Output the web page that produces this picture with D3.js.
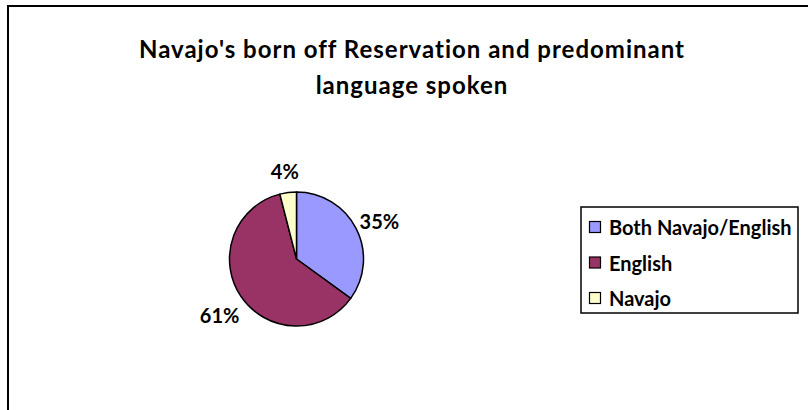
<!DOCTYPE html>
<html><head><meta charset="utf-8">
<script src="https://cdn.jsdelivr.net/npm/d3@7"></script>
<style>body{margin:0;background:#fff}svg{display:block}</style>
</head><body>
<script>
const categories = ["Both Navajo/English", "English", "Navajo"];
const values = [35, 61, 4];
const colors = ["#9999FF", "#993366", "#FFFFCC"];
const titleLines = ["Navajo's born off Reservation and predominant", "language spoken"];

const W = 808, H = 410;
const font = "Lato, 'Open Sans', sans-serif";
const svg = d3.select("body").append("svg").attr("width", W).attr("height", H);
svg.append("rect").attr("width", W).attr("height", H).attr("fill", "#fff");
// chart area border (continues beyond the window right and bottom)
svg.append("rect").attr("x", 8).attr("y", 6).attr("width", 1000).attr("height", 1000)
  .attr("fill", "none").attr("stroke", "#000").attr("stroke-width", 2);

// title
const title = svg.append("text").attr("text-anchor", "middle")
  .attr("font-family", font).attr("font-weight", "bold").attr("font-size", 24)
  .attr("letter-spacing", 1).attr("fill", "#000");
titleLines.forEach((t, i) => title.append("tspan").attr("x", 412).attr("y", 58 + i * 35.5).text(t));

// pie
const cx = 296.5, cy = 259, r = 67;
const pie = d3.pie().sort(null).value(d => d)(values);
const arc = d3.arc().innerRadius(0).outerRadius(r);
const labelArc = d3.arc().innerRadius(93).outerRadius(93);
const totalV = d3.sum(values);
const g = svg.append("g").attr("transform", `translate(${cx},${cy})`);
g.selectAll("path").data(pie).join("path")
  .attr("d", arc).attr("fill", (d, i) => colors[i])
  .attr("stroke", "#000").attr("stroke-width", 1.5).attr("stroke-linejoin", "round");
g.selectAll("text").data(pie).join("text")
  .attr("transform", d => `translate(${labelArc.centroid(d)})`)
  .attr("text-anchor", "middle").attr("dominant-baseline", "central").attr("dy", 4)
  .attr("font-family", font).attr("font-weight", "bold").attr("font-size", 20)
  .text(d => d3.format(".0%")(d.value / totalV));

// legend
const lx = 581, ly = 207, lw = 217, lh = 106;
svg.append("rect").attr("x", lx).attr("y", ly).attr("width", lw).attr("height", lh)
  .attr("fill", "#fff").attr("stroke", "#000").attr("stroke-width", 1.5);
const yRow = d3.scalePoint().domain(categories).range([227, 298]);
const items = svg.selectAll("g.leg").data(categories).join("g").attr("class", "leg")
  .attr("transform", d => `translate(0,${yRow(d)})`);
items.append("rect").attr("x", 589.5).attr("y", -5.5).attr("width", 11).attr("height", 11)
  .attr("fill", (d, i) => colors[i]).attr("stroke", "#000").attr("stroke-width", 1.2);
items.append("text").attr("x", 609).attr("y", 0).attr("dominant-baseline", "central")
  .attr("font-family", font).attr("font-weight", "bold").attr("font-size", 20)
  .text(d => d);
</script>
</body></html>
